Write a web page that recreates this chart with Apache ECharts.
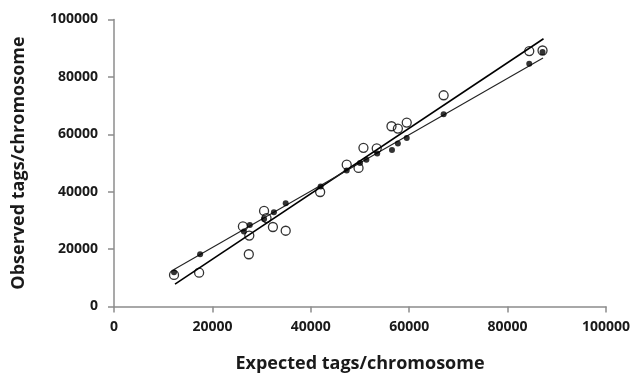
<!DOCTYPE html>
<html>
<head>
<meta charset="utf-8">
<script src="https://cdn.jsdelivr.net/npm/echarts@6/dist/echarts.min.js"></script>
<style>html,body{margin:0;padding:0;background:#fff}#c{width:634px;height:381px}</style>
</head>
<body>
<div id="c"></div>
<script>
// Filled markers: [expected, observed]
var filledPoints = [
  [12200, 11900], [17500, 18200], [26400, 26100], [27600, 28400],
  [30500, 30500], [32500, 32800], [34900, 36000], [42000, 41800],
  [47300, 47400], [50000, 50000], [51300, 51100], [53500, 53300],
  [56500, 54500], [57700, 56800], [59500, 58700], [67000, 67000],
  [84400, 84600], [87100, 88700]
];
// Open markers: [expected, observed]
var openPoints = [
  [12200, 11000], [17300, 11800], [26200, 27900], [27500, 24700],
  [27400, 18200], [30500, 33300], [31000, 30800], [32300, 27700],
  [34900, 26400], [41900, 39900], [47300, 49400], [49700, 48300],
  [50700, 55300], [53400, 55100], [56400, 62800], [57700, 62000],
  [59500, 64100], [67000, 73600], [84400, 89000], [87100, 89200]
];
// Trend line endpoints
var filledTrend = [[12100, 12800], [87200, 86600]];
var openTrend = [[12400, 7800], [87300, 93300]];
var xTicks = [0, 20000, 40000, 60000, 80000, 100000];
var yTicks = [0, 20000, 40000, 60000, 80000, 100000];
var xTitle = 'Expected tags/chromosome';
var yTitle = 'Observed tags/chromosome';

var FONT = '"Open Sans", sans-serif';
var chart = echarts.init(document.getElementById('c'));
var axisLine = {show: true, lineStyle: {color: '#8c8c8c', width: 1.5}};
var plain = function (v) { return String(v); };
chart.setOption({
  animation: false,
  backgroundColor: '#fff',
  grid: {left: 114, right: 28, top: 19.5, bottom: 74.5},
  xAxis: {
    type: 'value', min: xTicks[0], max: xTicks[xTicks.length - 1], interval: 20000,
    name: xTitle, nameLocation: 'middle', nameGap: 48,
    nameTextStyle: {fontFamily: FONT, fontSize: 18, fontWeight: 'bold', color: '#1a1a1a'},
    axisLine: axisLine,
    axisTick: {show: true, length: 6, lineStyle: {color: '#8c8c8c', width: 1.5}},
    axisLabel: {margin: 14, fontFamily: FONT, fontSize: 14, fontWeight: 'bold', color: '#1a1a1a', formatter: plain},
    splitLine: {show: false}
  },
  yAxis: {
    type: 'value', min: yTicks[0], max: yTicks[yTicks.length - 1], interval: 20000,
    name: yTitle, nameLocation: 'middle', nameGap: 86,
    nameTextStyle: {fontFamily: FONT, fontSize: 18, fontWeight: 'bold', color: '#1a1a1a'},
    axisLine: axisLine,
    axisTick: {show: true, length: 6, lineStyle: {color: '#8c8c8c', width: 1.5}},
    axisLabel: {margin: 16, fontFamily: FONT, fontSize: 14, fontWeight: 'bold', color: '#1a1a1a', formatter: plain},
    splitLine: {show: false}
  },
  series: [
    {
      type: 'line', data: openTrend, symbol: 'none', silent: true, z: 2,
      lineStyle: {color: '#000', width: 1.6}
    },
    {
      type: 'line', data: filledTrend, symbol: 'none', silent: true, z: 2,
      lineStyle: {color: '#222', width: 1.1}
    },
    {
      type: 'scatter', data: openPoints, symbol: 'circle', symbolSize: 9, z: 3,
      itemStyle: {color: 'rgba(255,255,255,0)', borderColor: '#000', borderWidth: 1.3}
    },
    {
      type: 'scatter', data: filledPoints, symbol: 'circle', symbolSize: 6, z: 4,
      itemStyle: {color: '#000'}
    }
  ]
});
</script>
</body>
</html>
